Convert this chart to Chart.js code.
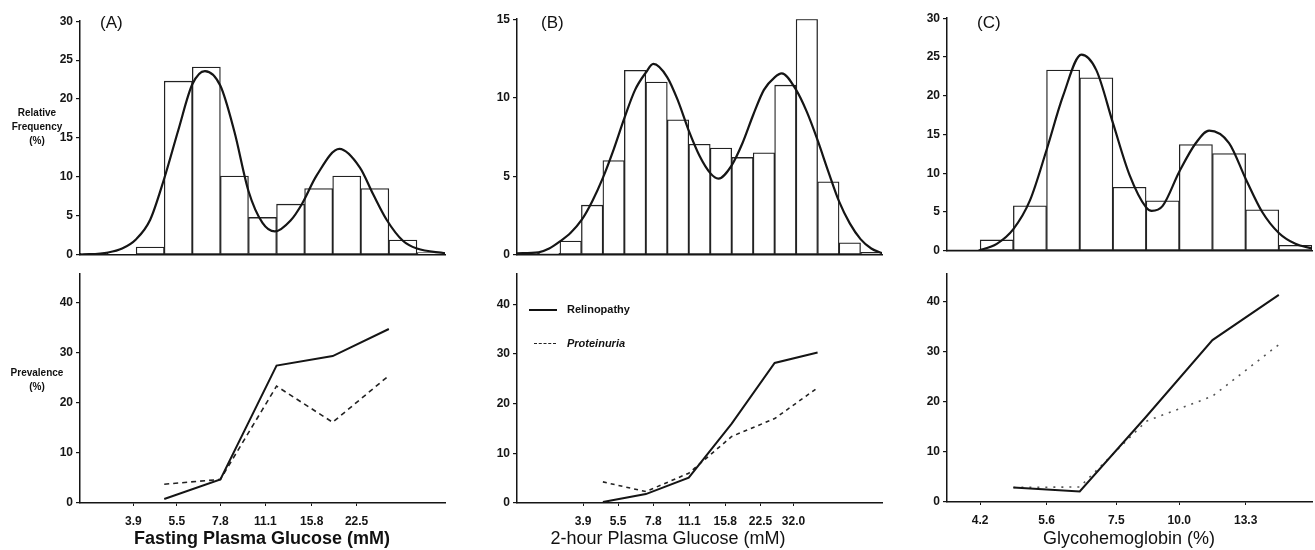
<!DOCTYPE html>
<html>
<head>
<meta charset="utf-8">
<script src="https://cdn.jsdelivr.net/npm/chart.js@4.4.1/dist/chart.umd.min.js"></script>
<style>
  body { margin: 0; background: #fff; width: 1315px; height: 550px; position: relative; overflow: hidden;
         font-family: "Liberation Sans", Arial, sans-serif; color: #111; }
  canvas { position: absolute; }
  .t { position: absolute; white-space: nowrap; }
  .panel { font-size: 17px; top: 13px; }
  .ylab { font-size: 10px; font-weight: bold; text-align: center; line-height: 14px; width: 70px; left: 2px; }
  .xtitle { font-size: 18px; top: 528px; transform: translateX(-50%); }
  .leg { font-size: 11px; font-weight: bold; }
</style>
</head>
<body>
<canvas id="fpgTop"></canvas>
<canvas id="fpgBottom"></canvas>
<canvas id="ogttTop"></canvas>
<canvas id="ogttBottom"></canvas>
<canvas id="hbaTop"></canvas>
<canvas id="hbaBottom"></canvas>

<div class="t panel" style="left:100px">(A)</div>
<div class="t panel" style="left:541px">(B)</div>
<div class="t panel" style="left:977px">(C)</div>

<div class="t ylab" style="top:106px">Relative<br>Frequency<br>(%)</div>
<div class="t ylab" style="top:366px">Prevalence<br>(%)</div>

<div class="t xtitle" style="left:262px;font-weight:bold">Fasting Plasma Glucose (mM)</div>
<div class="t xtitle" style="left:668px">2-hour Plasma Glucose (mM)</div>
<div class="t xtitle" style="left:1129px">Glycohemoglobin (%)</div>

<div class="t" style="left:529px;top:309px;width:28px;border-top:2px solid #111"></div>
<div class="t leg" style="left:567px;top:303px">Relinopathy</div>
<div class="t" style="left:534px;top:343px;width:22px;border-top:1.5px dashed #222"></div>
<div class="t leg" style="left:567px;top:337px;font-style:italic">Proteinuria</div>

<script>
// (A) fasting plasma glucose, 13 classes
const fpgFreq = [0.2, 0, 1.0, 22.3, 24.1, 10.1, 4.8, 6.5, 8.5, 10.1, 8.5, 1.9, 0.3];
const fpgCurveX = [0, 1, 1.5, 2, 2.5, 3, 3.5, 4, 4.45, 5, 5.5, 6, 6.5, 6.94, 7.5, 7.9, 8.43, 9.24, 9.97, 10.45, 10.92, 11.5, 12, 13];
const fpgCurveY = [0, 0.3, 0.8, 2.0, 4.5, 9.8, 16, 21.9, 23.6, 21.7, 15.8, 8.2, 4.1, 3.0, 4.4, 6.5, 10.2, 13.6, 11.2, 7.7, 4.5, 1.8, 0.8, 0.2];
const fpgPrevX = [3, 5, 7, 9, 11];
const fpgRetino = [0.8, 4.7, 27.4, 29.3, 34.7];
const fpgProtein = [3.75, 4.7, 23.3, 16.1, 25.4];
const fpgTickAt = [1.9, 3.45, 5.0, 6.6, 8.25, 9.85];
const fpgTickLabels = ['3.9', '5.5', '7.8', '11.1', '15.8', '22.5'];

// (B) 2-hour plasma glucose, 17 classes
const ogttFreq = [0.1, 0.1, 0.87, 3.16, 6.0, 11.74, 11.0, 8.6, 7.04, 6.8, 6.2, 6.5, 10.8, 15.0, 4.65, 0.77, 0.16];
const ogttCurveX = [0, 1, 1.5, 2, 2.5, 3, 3.5, 4, 4.5, 5, 5.5, 6, 6.35, 7, 7.5, 8, 8.5, 9, 9.38, 10, 10.5, 11, 11.5, 12, 12.33, 13, 13.5, 14, 14.5, 15, 15.5, 16, 16.5, 17];
const ogttCurveY = [0.1, 0.16, 0.4, 0.85, 1.4, 2.2, 3.4, 4.9, 6.7, 8.7, 10.5, 11.6, 12.15, 11.3, 9.8, 7.9, 6.3, 5.2, 4.85, 5.7, 7.1, 8.9, 10.5, 11.3, 11.55, 10.5, 9.1, 7.3, 5.3, 3.4, 2.0, 1.0, 0.4, 0.1];
const ogttPrevX = [4, 6, 8, 10, 12, 14];
const ogttRetino = [0.2, 1.8, 5.1, 16, 28.2, 30.3];
const ogttProtein = [4.25, 2.3, 6.0, 13.4, 17.0, 23.2];
const ogttTickAt = [3.08, 4.71, 6.35, 8.03, 9.7, 11.34, 12.88];
const ogttTickLabels = ['3.9', '5.5', '7.8', '11.1', '15.8', '22.5', '32.0'];

// (C) glycohemoglobin, 11 classes
const hbaFreq = [0, 1.4, 5.8, 23.3, 22.3, 8.2, 6.45, 13.7, 12.55, 5.3, 0.7];
const hbaCurveX = [0, 0.9, 1, 1.5, 2, 2.5, 3, 3.5, 4.05, 4.5, 5, 5.5, 6, 6.17, 6.5, 7, 7.5, 7.9, 8.5, 9, 9.5, 10, 10.5, 11];
const hbaCurveY = [0, 0, 0.1, 0.9, 2.8, 6.5, 13.0, 20, 25.3, 23.3, 16.5, 9.8, 5.6, 5.15, 5.8, 10.2, 13.9, 15.5, 13.9, 9.3, 5.0, 2.3, 0.9, 0.3];
const hbaPrevX = [2, 4, 6, 8, 10];
const hbaRetino = [2.9, 2.1, 17, 32.3, 41.3];
const hbaProtein = [2.9, 3.0, 16.1, 21.1, 31.4];
const hbaTickAt = [1, 3, 5.1, 7, 9];
const hbaTickLabels = ['4.2', '5.6', '7.5', '10.0', '13.3'];

const freqTicksA = [0, 5, 10, 15, 20, 25, 30];
const freqTicksB = [0, 5, 10, 15];
const prevTicks = [0, 10, 20, 30, 40];

const INK = '#151515';
const tickFont = { family: '"Liberation Sans", Arial, sans-serif', size: 12, weight: 'bold' };
const PAD_L = 50, PAD_R = 8;

function place(id, box, padT, padB) {
  const c = document.getElementById(id);
  c.width = box.r - box.l + PAD_L + PAD_R;
  c.height = box.b - box.t + padT + padB;
  c.style.left = (box.l - PAD_L) + 'px';
  c.style.top = (box.t - padT) + 'px';
  return c;
}

function yAxis(max, ticks) {
  return {
    min: 0, max: max,
    afterBuildTicks: s => { s.ticks = ticks.map(v => ({ value: v })); },
    ticks: { font: tickFont, color: INK, padding: 3 },
    grid: { drawOnChartArea: false, tickLength: 4, color: INK, lineWidth: 1.2 },
    border: { color: INK, width: 1.5 },
    afterFit: s => { s.width = PAD_L; }
  };
}

function histogram(id, box, freq, cx, cy, yMax, yTicks) {
  const c = place(id, box, 8, 2);
  const labels = freq.map((v, i) => String(i));
  new Chart(c, {
    data: {
      labels: labels,
      datasets: [
        {
          type: 'line', xAxisID: 'xc', order: 0,
          data: cx.map((x, i) => ({ x: x, y: cy[i] })),
          borderColor: INK, borderWidth: 2.2, pointRadius: 0,
          cubicInterpolationMode: 'monotone'
        },
        {
          type: 'bar', order: 1, grouped: false,
          data: freq,
          backgroundColor: '#fff', borderColor: '#222', borderWidth: 1.3,
          borderSkipped: false, barPercentage: 1, categoryPercentage: 1
        }
      ]
    },
    options: {
      responsive: false, animation: false, devicePixelRatio: 1,
      layout: { padding: { left: 0, top: 8, right: PAD_R, bottom: 0 } },
      plugins: { legend: { display: false }, tooltip: { enabled: false } },
      scales: {
        x: {
          type: 'category', offset: true,
          grid: { display: false }, ticks: { display: false },
          border: { color: INK, width: 1.5 },
          afterFit: s => { s.height = 2; }
        },
        xc: { type: 'linear', display: false, min: 0, max: freq.length },
        y: yAxis(yMax, yTicks)
      }
    }
  });
}

function prevalence(id, box, n, tickAt, tickLabels, xs, retino, protein, dash, dashColor) {
  const c = place(id, box, 4, 28);
  new Chart(c, {
    type: 'line',
    data: {
      datasets: [
        {
          label: 'Relinopathy',
          data: xs.map((x, i) => ({ x: x, y: retino[i] })),
          borderColor: INK, borderWidth: 2, pointRadius: 0, tension: 0
        },
        {
          label: 'Proteinuria',
          data: xs.map((x, i) => ({ x: x, y: protein[i] })),
          borderColor: dashColor, borderWidth: 1.6, borderDash: dash, pointRadius: 0, tension: 0
        }
      ]
    },
    options: {
      responsive: false, animation: false, devicePixelRatio: 1,
      layout: { padding: { left: 0, top: 4, right: PAD_R, bottom: 0 } },
      plugins: { legend: { display: false }, tooltip: { enabled: false } },
      scales: {
        x: {
          type: 'linear', min: 0, max: n,
          afterBuildTicks: s => { s.ticks = tickAt.map(v => ({ value: v })); },
          ticks: { autoSkip: false, maxRotation: 0, font: tickFont, color: INK, padding: 8,
                   callback: (v, i) => tickLabels[i] },
          grid: { drawOnChartArea: false, tickLength: 3, color: INK },
          border: { color: INK, width: 1.5 },
          afterFit: s => { s.height = 28; }
        },
        y: yAxis((box.b - box.t) / ((box.b - box.y40) / 40), prevTicks)
      }
    }
  });
}

histogram('fpgTop', { l: 80, r: 445, t: 19, b: 263 }, fpgFreq, fpgCurveX, fpgCurveY, 30, freqTicksA);
histogram('ogttTop', { l: 517, r: 882, t: 16.5, b: 263 }, ogttFreq, ogttCurveX, ogttCurveY, 15, freqTicksB);
histogram('hbaTop', { l: 947, r: 1312, t: 16, b: 259 }, hbaFreq, hbaCurveX, hbaCurveY, 30, freqTicksA);

prevalence('fpgBottom', { l: 80, r: 445, t: 268, b: 503, y40: 297 }, fpgFreq.length, fpgTickAt, fpgTickLabels,
           fpgPrevX, fpgRetino, fpgProtein, [5, 4], '#222');
prevalence('ogttBottom', { l: 517, r: 882, t: 268, b: 503, y40: 299 }, ogttFreq.length, ogttTickAt, ogttTickLabels,
           ogttPrevX, ogttRetino, ogttProtein, [4, 4], '#222');
prevalence('hbaBottom', { l: 947, r: 1312, t: 268, b: 502, y40: 296 }, hbaFreq.length, hbaTickAt, hbaTickLabels,
           hbaPrevX, hbaRetino, hbaProtein, [2, 6], '#555');
</script>
</body>
</html>
